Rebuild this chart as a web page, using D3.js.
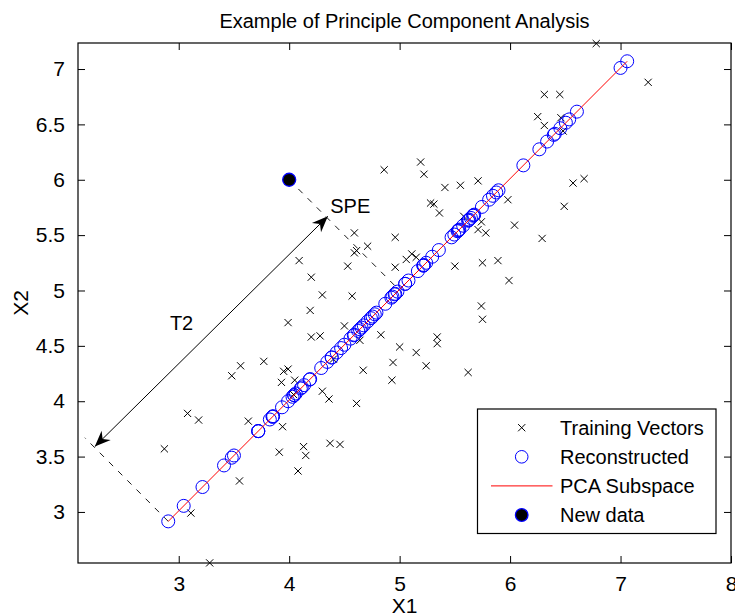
<!DOCTYPE html>
<html lang="en">
<head>
  <meta charset="UTF-8">
  <title>Example of Principle Component Analysis</title>
  <script src="https://d3js.org/d3.v7.min.js"></script>
  <style>
    body {
      margin: 0;
      background: #fff;
    }
    svg {
      display: block;
      font-family: "Liberation Sans", Arial, Helvetica, sans-serif;
    }
  </style>
</head>
<body>
  <script>
    // Training vectors (X1, X2)
    const training = [
      [6.78, 7.23], [7.25, 6.88], [6.31, 6.77], [6.45, 6.77], [6.25, 6.57], [6.46, 6.56],
      [6.31, 6.49], [6.48, 6.44], [5.19, 6.16], [4.86, 6.09], [5.22, 6.05], [5.41, 5.93],
      [5.55, 5.95], [5.71, 5.99], [6.57, 5.97], [6.67, 6.01], [5.98, 5.82], [5.28, 5.79],
      [5.31, 5.78], [5.36, 5.70], [6.49, 5.76], [5.58, 5.67], [5.74, 5.62], [6.04, 5.59],
      [5.71, 5.55], [5.78, 5.52], [6.29, 5.47], [4.96, 5.48], [4.71, 5.40], [5.06, 5.28],
      [5.11, 5.33], [5.15, 5.30], [4.96, 5.21], [5.50, 5.22], [5.75, 5.25], [5.89, 5.27],
      [5.99, 5.09], [5.74, 4.86], [5.75, 4.74], [4.59, 5.52], [4.59, 5.34], [4.61, 5.36],
      [4.09, 5.27], [4.53, 5.22], [4.20, 5.12], [4.30, 4.96], [4.57, 4.95], [4.19, 4.82],
      [3.99, 4.71], [4.50, 4.68], [4.20, 4.58], [4.28, 4.59], [4.83, 4.60], [4.64, 4.55],
      [5.00, 4.49], [5.15, 4.44], [4.94, 4.35], [5.24, 4.32], [4.67, 4.28], [4.93, 4.19],
      [5.34, 4.58], [5.34, 4.52], [5.62, 4.26], [3.95, 4.27], [3.99, 4.29], [4.05, 4.19],
      [3.93, 4.17], [4.30, 4.09], [4.36, 4.02], [4.61, 3.98], [3.94, 3.77], [4.37, 3.62],
      [4.46, 3.61], [4.13, 3.59], [4.15, 3.51], [4.08, 3.37], [3.91, 3.54], [2.87, 3.57],
      [3.08, 3.89], [3.18, 3.83], [3.11, 2.99], [3.28, 2.54], [3.55, 3.28], [3.48, 4.23],
      [3.56, 4.32], [3.63, 3.82], [3.77, 4.36], [4.04, 4.06], [4.40, 4.38]
    ];

    // Reconstructed vectors (on the PCA subspace)
    const reconstructed = [
      [7.00, 7.01], [7.06, 7.07], [6.535, 6.545], [6.605, 6.615], [6.405, 6.415], [6.505, 6.515],
      [6.395, 6.405], [6.455, 6.465], [5.67, 5.68], [5.47, 5.48], [5.63, 5.64], [5.665, 5.675],
      [5.745, 5.755], [5.845, 5.855], [6.265, 6.275], [6.335, 6.345], [5.895, 5.905], [5.53, 5.54],
      [5.54, 5.55], [5.525, 5.535], [6.12, 6.13], [5.62, 5.63], [5.675, 5.685], [5.81, 5.82],
      [5.625, 5.635], [5.645, 5.655], [5.875, 5.885], [5.215, 5.225], [5.05, 5.06], [5.165, 5.175],
      [5.215, 5.225], [5.22, 5.23], [5.08, 5.09], [5.355, 5.365], [5.495, 5.505], [5.575, 5.585],
      [5.535, 5.545], [5.295, 5.305], [5.24, 5.25], [5.05, 5.06], [4.96, 4.97], [4.98, 4.99],
      [4.675, 4.685], [4.87, 4.88], [4.655, 4.665], [4.625, 4.635], [4.755, 4.765], [4.50, 4.51],
      [4.345, 4.355], [4.585, 4.595], [4.385, 4.395], [4.43, 4.44], [4.71, 4.72], [4.59, 4.60],
      [4.74, 4.75], [4.79, 4.80], [4.64, 4.65], [4.775, 4.785], [4.47, 4.48], [4.555, 4.565],
      [4.955, 4.965], [4.925, 4.935], [4.935, 4.945], [4.105, 4.115], [4.135, 4.145], [4.115, 4.125],
      [4.045, 4.055], [4.19, 4.20], [4.185, 4.195], [4.29, 4.30], [3.85, 3.86], [3.99, 4.00],
      [4.03, 4.04], [3.855, 3.865], [3.825, 3.835], [3.72, 3.73], [3.72, 3.73], [3.215, 3.225],
      [3.48, 3.49], [3.50, 3.51], [3.045, 3.055], [2.905, 2.915], [3.41, 3.42], [3.85, 3.86],
      [3.935, 3.945], [3.72, 3.73], [4.06, 4.07], [4.045, 4.055], [4.385, 4.395]
    ];

    const pcaSubspace = [[2.905, 2.915], [7.06, 7.07]];
    const newData = [[4.0, 6.0]];

    // annotation geometry (data units)
    const speLine = [[4.0, 6.0], [4.995, 5.005]];
    const t2Guide = [[2.905, 2.915], [2.15, 3.67]];
    const t2Arrow = [[2.24, 3.59], [4.35, 5.67]];
    const notes = [
      { text: "SPE", x: 4.372, y: 5.70 },
      { text: "T2", x: 2.92, y: 4.64 }
    ];

    const xTicks = [3, 4, 5, 6, 7, 8];
    const yTicks = [3, 3.5, 4, 4.5, 5, 5.5, 6, 6.5, 7];
    const legendLabels = ["Training Vectors", "Reconstructed", "PCA Subspace", "New data"];

    const W = 735, H = 616;
    const plot = { left: 78, right: 731, top: 43, bottom: 563 };

    const x = d3.scaleLinear().domain([2.088, 8]).range([plot.left, plot.right]);
    const y = d3.scaleLinear().domain([2.539, 7.235]).range([plot.bottom, plot.top]);

    const svg = d3.select("body").append("svg")
      .attr("width", W)
      .attr("height", H);

    svg.append("rect").attr("width", W).attr("height", H).attr("fill", "#fff");

    // Title
    svg.append("text")
      .attr("x", (plot.left + plot.right) / 2)
      .attr("y", 28)
      .attr("text-anchor", "middle")
      .style("font-size", "20px")
      .text("Example of Principle Component Analysis");

    // Axes with inward ticks (MATLAB style box)
    const tickLen = 7;
    const fmt = d => String(d);
    const axisBottom = svg.append("g").attr("transform", `translate(0,${plot.bottom})`)
      .call(d3.axisBottom(x).tickValues(xTicks).tickFormat(fmt).tickSizeInner(-tickLen).tickSizeOuter(0).tickPadding(13));
    const axisTop = svg.append("g").attr("transform", `translate(0,${plot.top})`)
      .call(d3.axisTop(x).tickValues(xTicks).tickSizeInner(-tickLen).tickSizeOuter(0).tickFormat(""));
    const axisLeft = svg.append("g").attr("transform", `translate(${plot.left},0)`)
      .call(d3.axisLeft(y).tickValues(yTicks).tickFormat(fmt).tickSizeInner(-tickLen).tickSizeOuter(0).tickPadding(13));
    const axisRight = svg.append("g").attr("transform", `translate(${plot.right},0)`)
      .call(d3.axisRight(y).tickValues(yTicks).tickSizeInner(-tickLen).tickSizeOuter(0).tickFormat(""));

    [axisBottom, axisTop, axisLeft, axisRight].forEach(g => {
      g.select(".domain").remove();
      g.selectAll(".tick line").attr("stroke", "#000").attr("stroke-width", 1);
      g.selectAll(".tick text")
        .attr("fill", "#000")
        .style("font-size", "21px")
        .style("font-family", "'Liberation Sans', Arial, sans-serif");
    });
    axisBottom.selectAll(".tick text").attr("dy", "0.71em");

    svg.append("rect")
      .attr("x", plot.left)
      .attr("y", plot.top)
      .attr("width", plot.right - plot.left)
      .attr("height", plot.bottom - plot.top)
      .attr("fill", "none")
      .attr("stroke", "#000")
      .attr("stroke-width", 1.2);

    // Axis labels
    svg.append("text")
      .attr("x", (plot.left + plot.right) / 2)
      .attr("y", 613)
      .attr("text-anchor", "middle")
      .style("font-size", "21px")
      .text("X1");

    svg.append("text")
      .attr("transform", `translate(28,${(plot.top + plot.bottom) / 2}) rotate(-90)`)
      .attr("text-anchor", "middle")
      .style("font-size", "21px")
      .text("X2");

    const line = d3.line().x(d => x(d[0])).y(d => y(d[1]));

    // Training vectors (x markers)
    const xs = 3.6;
    svg.append("g").selectAll("path")
      .data(training)
      .join("path")
      .attr("d", d => {
        const cx = x(d[0]), cy = y(d[1]);
        return `M${cx - xs},${cy - xs}L${cx + xs},${cy + xs}M${cx - xs},${cy + xs}L${cx + xs},${cy - xs}`;
      })
      .attr("stroke", "#000")
      .attr("stroke-width", 1)
      .attr("fill", "none");

    // Reconstructed (open blue circles)
    svg.append("g").selectAll("circle")
      .data(reconstructed)
      .join("circle")
      .attr("cx", d => x(d[0]))
      .attr("cy", d => y(d[1]))
      .attr("r", 6.5)
      .attr("fill", "none")
      .attr("stroke", "#0000ff")
      .attr("stroke-width", 1);

    // PCA subspace line
    svg.append("path")
      .attr("d", line(pcaSubspace))
      .attr("stroke", "#ff0000")
      .attr("stroke-width", 1)
      .attr("fill", "none");

    // Dashed guides
    [speLine, t2Guide].forEach(seg => {
      svg.append("path")
        .attr("d", line(seg))
        .attr("stroke", "#000")
        .attr("stroke-width", 0.9)
        .attr("stroke-dasharray", "6,7")
        .attr("fill", "none");
    });

    // T2 double arrow
    svg.append("path")
      .attr("d", line(t2Arrow))
      .attr("stroke", "#000")
      .attr("stroke-width", 1)
      .attr("fill", "none");

    function arrowHead(tip, tail) {
      const tx = x(tip[0]), ty = y(tip[1]);
      const dx = tx - x(tail[0]), dy = ty - y(tail[1]);
      const len = Math.hypot(dx, dy);
      const ux = dx / len, uy = dy / len;
      const px = -uy, py = ux;
      const L = 16, Wd = 6.5, N = 11;
      const bx = tx - ux * L, by = ty - uy * L;
      return `M${tx},${ty}L${bx + px * Wd},${by + py * Wd}L${tx - ux * N},${ty - uy * N}L${bx - px * Wd},${by - py * Wd}Z`;
    }
    svg.append("path").attr("d", arrowHead(t2Arrow[1], t2Arrow[0])).attr("fill", "#000");
    svg.append("path").attr("d", arrowHead(t2Arrow[0], t2Arrow[1])).attr("fill", "#000");

    // New data
    svg.append("g").selectAll("circle")
      .data(newData)
      .join("circle")
      .attr("cx", d => x(d[0]))
      .attr("cy", d => y(d[1]))
      .attr("r", 6.5)
      .attr("fill", "#000")
      .attr("stroke", "#0000ff")
      .attr("stroke-width", 1.3);

    // Annotation texts
    svg.append("g").selectAll("text")
      .data(notes)
      .join("text")
      .attr("x", d => x(d.x))
      .attr("y", d => y(d.y))
      .style("font-size", "20px")
      .text(d => d.text);

    // Legend
    const lg = { x: 477.5, y: 409, w: 238.5, h: 124.5, row0: 427.7, step: 29.1 };
    const legend = svg.append("g");
    legend.append("rect")
      .attr("x", lg.x).attr("y", lg.y)
      .attr("width", lg.w).attr("height", lg.h)
      .attr("fill", "#fff")
      .attr("stroke", "#000")
      .attr("stroke-width", 1.2);

    const mx = 521.7;
    legendLabels.forEach((label, i) => {
      const cy = lg.row0 + i * lg.step;
      if (i === 0) {
        legend.append("path")
          .attr("d", `M${mx - xs},${cy - xs}L${mx + xs},${cy + xs}M${mx - xs},${cy + xs}L${mx + xs},${cy - xs}`)
          .attr("stroke", "#000").attr("stroke-width", 1);
      } else if (i === 1) {
        legend.append("circle").attr("cx", mx).attr("cy", cy).attr("r", 6.3)
          .attr("fill", "none").attr("stroke", "#0000ff").attr("stroke-width", 1);
      } else if (i === 2) {
        legend.append("line").attr("x1", 491).attr("x2", 552.5).attr("y1", cy).attr("y2", cy)
          .attr("stroke", "#ff0000").attr("stroke-width", 1);
      } else {
        legend.append("circle").attr("cx", mx).attr("cy", cy).attr("r", 6.3)
          .attr("fill", "#000").attr("stroke", "#0000ff").attr("stroke-width", 1.3);
      }
      legend.append("text")
        .attr("x", 560)
        .attr("y", cy)
        .attr("dy", "0.36em")
        .style("font-size", "20px")
        .text(label);
    });
  </script>
</body>
</html>
